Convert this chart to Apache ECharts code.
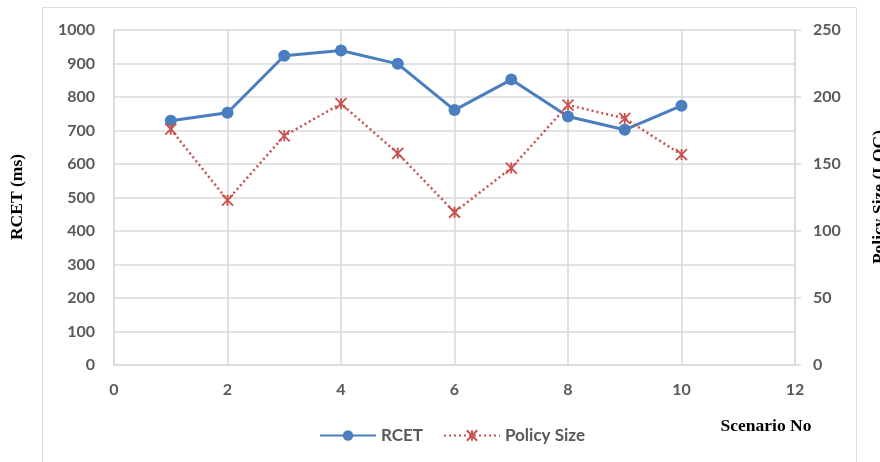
<!DOCTYPE html>
<html>
<head>
<meta charset="utf-8">
<script src="https://cdn.jsdelivr.net/npm/echarts@6/dist/echarts.min.js"></script>
<style>
  html, body { margin: 0; padding: 0; background: #ffffff; }
  #chart { width: 880px; height: 462px; }
</style>
</head>
<body>
<div id="chart"></div>
<script>
const scenarios = [1, 2, 3, 4, 5, 6, 7, 8, 9, 10];
const rcet = [729, 753, 923, 939, 899, 761, 852, 742, 702, 774];
const policySize = [176, 123, 171, 195, 158, 114, 147, 194, 184, 157];

const labelFont = {
  color: '#595959',
  fontFamily: 'Lato',
  fontWeight: 'bold',
  fontSize: 16
};
const gridColor = '#d9d9d9';
const plainNumber = (v) => String(v);

const chart = echarts.init(document.getElementById('chart'));

chart.setOption({
  animation: false,
  backgroundColor: '#ffffff',
  grid: { left: 114, right: 85, top: 30, bottom: 97 },
  xAxis: {
    type: 'value',
    min: 0,
    max: 12,
    interval: 2,
    axisLine: { show: true, lineStyle: { color: gridColor, width: 1.5 } },
    axisTick: { show: false },
    axisLabel: Object.assign({ margin: 17, formatter: plainNumber }, labelFont),
    splitLine: { show: true, lineStyle: { color: gridColor, width: 1.5 } }
  },
  yAxis: [
    {
      type: 'value',
      min: 0,
      max: 1000,
      interval: 100,
      axisLine: { show: true, lineStyle: { color: gridColor, width: 1.5 } },
      axisTick: { show: false },
      axisLabel: Object.assign({ margin: 19, formatter: plainNumber }, labelFont),
      splitLine: { show: true, lineStyle: { color: gridColor, width: 1.5 } }
    },
    {
      type: 'value',
      position: 'right',
      min: 0,
      max: 250,
      interval: 50,
      axisLine: { show: true, lineStyle: { color: gridColor, width: 1.5 } },
      axisTick: { show: true, length: 6, lineStyle: { color: gridColor, width: 1.5 } },
      axisLabel: Object.assign({ margin: 18, formatter: plainNumber }, labelFont),
      splitLine: { show: false }
    }
  ],
  legend: {
    left: 314,
    top: 422,
    itemWidth: 56,
    itemHeight: 13,
    itemGap: 20,
    textStyle: Object.assign({}, labelFont, { fontSize: 17 }),
    data: ['RCET', 'Policy Size']
  },
  series: [
    {
      name: 'RCET',
      type: 'line',
      yAxisIndex: 0,
      data: scenarios.map((s, i) => [s, rcet[i]]),
      symbol: 'circle',
      symbolSize: 12,
      lineStyle: { color: '#4a7ebf', width: 3 },
      itemStyle: { color: '#4a7ebf' }
    },
    {
      name: 'Policy Size',
      type: 'line',
      yAxisIndex: 1,
      data: scenarios.map((s, i) => [s, policySize[i]]),
      symbol: 'path://M0,0L10,10M10,0L0,10M5,0L5,10',
      symbolSize: 11,
      lineStyle: { color: '#c9504d', width: 2.5, type: [2, 3] },
      itemStyle: { color: 'rgba(0,0,0,0)', borderColor: '#c9504d', borderWidth: 1.8 }
    }
  ],
  graphic: [
    {
      type: 'rect',
      shape: { x: 42.5, y: 7.5, width: 814, height: 460 },
      style: { fill: 'none', stroke: '#dcdcdc', lineWidth: 1 },
      silent: true,
      z: -1
    },
    {
      type: 'text',
      x: 17,
      y: 197,
      rotation: Math.PI / 2,
      style: {
        text: 'RCET (ms)',
        fill: '#000000',
        font: 'bold 17.5px "Liberation Serif"',
        align: 'center',
        verticalAlign: 'middle'
      }
    },
    {
      type: 'text',
      x: 879,
      y: 197,
      rotation: Math.PI / 2,
      style: {
        text: 'Policy Size (LOC)',
        fill: '#000000',
        font: 'bold 17.5px "Liberation Serif"',
        align: 'center',
        verticalAlign: 'middle'
      }
    },
    {
      type: 'text',
      x: 766,
      y: 426,
      style: {
        text: 'Scenario No',
        fill: '#000000',
        font: 'bold 17.5px "Liberation Serif"',
        align: 'center',
        verticalAlign: 'middle'
      }
    }
  ]
});
</script>
</body>
</html>
